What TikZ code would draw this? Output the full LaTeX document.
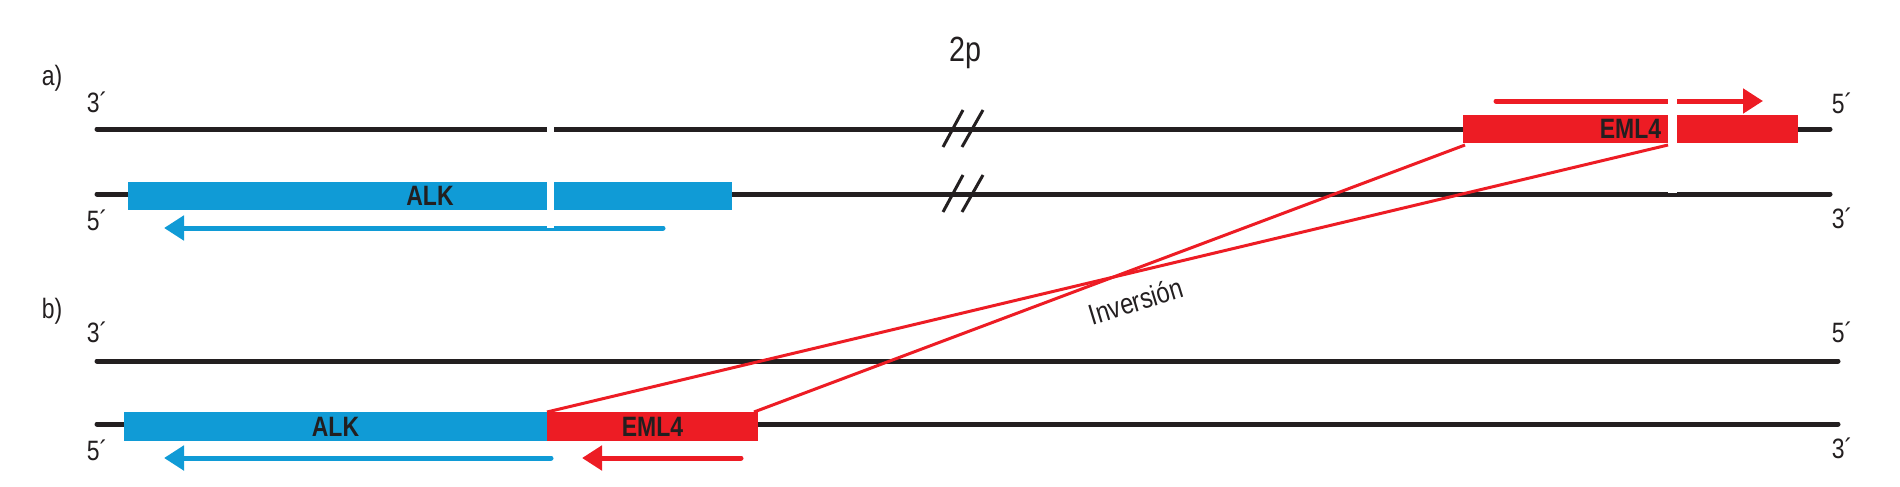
\documentclass[tikz,border=0pt]{standalone}
\usepackage{fontspec}
\setmainfont[FakeStretch=0.82]{Liberation Sans}
\usetikzlibrary{arrows.meta}
\definecolor{alkblue}{RGB}{16,155,214}
\definecolor{emlred}{RGB}{237,28,36}
\definecolor{ink}{RGB}{35,31,32}
\begin{document}
\begin{tikzpicture}[x=1pt,y=-1pt,
  strand/.style={line width=5pt, draw=ink, line cap=round},
  genebox/.style={rectangle, inner sep=0pt, outer sep=0pt, text=ink, minimum height=28pt, font=\fontsize{28}{30}\selectfont\bfseries},
  dirarrow/.style={line width=5pt, line cap=round, -{Triangle[length=20pt,width=24pt]}},
  crossline/.style={draw=emlred, line width=3pt},
  lbl/.style={text=ink, anchor=base, inner sep=0pt, font=\fontsize{28}{30}\selectfont},
  gapbar/.style={fill=white, draw=none},
  brk/.style={line width=3pt, draw=ink}]
\useasboundingbox (0,0) rectangle (1900,487);

% strand end points
\coordinate (a1L) at (97,129);  \coordinate (a1R) at (1830,129);
\coordinate (a2L) at (97,194);  \coordinate (a2R) at (1830,194);
\coordinate (b1L) at (97,361);  \coordinate (b1R) at (1838,361);
\coordinate (b2L) at (97,424);  \coordinate (b2R) at (1838,424);

\draw[strand] (a1L) -- (a1R);
\draw[strand] (a2L) -- (a2R);
\draw[strand] (b1L) -- (b1R);
\draw[strand] (b2L) -- (b2R);

% break marks
\coordinate (k1a) at (943,147); \coordinate (k1b) at (963,110);
\coordinate (k2a) at (962,147); \coordinate (k2b) at (983,110);
\coordinate (k3a) at (943,212); \coordinate (k3b) at (963,175);
\coordinate (k4a) at (962,212); \coordinate (k4b) at (983,175);
\draw[brk] (k1a) -- (k1b);
\draw[brk] (k2a) -- (k2b);
\draw[brk] (k3a) -- (k3b);
\draw[brk] (k4a) -- (k4b);

% gene boxes
\node[genebox, fill=alkblue, minimum width=604pt] (alkA) at (430,196) {ALK};
\node[genebox, fill=emlred, minimum width=335pt] (emlA) at (1630.5,129) {EML4};
\node[genebox, fill=alkblue, minimum width=423pt, minimum height=29pt] (alkB) at (335.5,426.5) {ALK};
\node[genebox, fill=emlred, minimum width=211pt, minimum height=29pt] (emlB) at (652.5,426.5) {EML4};

% direction arrows
\coordinate (ba1) at (663,228); \coordinate (ba2) at (164,228);
\coordinate (ra1) at (1496,101); \coordinate (ra2) at (1763,101);
\coordinate (bb1) at (551,458); \coordinate (bb2) at (164,458);
\coordinate (rb1) at (741,458); \coordinate (rb2) at (582,458);
\draw[dirarrow, draw=alkblue, fill=alkblue] (ba1) -- (ba2);
\draw[dirarrow, draw=emlred, fill=emlred] (ra1) -- (ra2);
\draw[dirarrow, draw=alkblue, fill=alkblue] (bb1) -- (bb2);
\draw[dirarrow, draw=emlred, fill=emlred] (rb1) -- (rb2);

% breakpoint gaps
\fill[gapbar] (547,123) rectangle (554,228);
\fill[gapbar] (1668,95) rectangle (1677,193);

% inversion lines
\coordinate (eg) at (1668,145);
\coordinate (es) at (1465,145);
\draw[crossline] (emlB.north west) -- (eg);
\draw[crossline] ([xshift=-4pt]emlB.north east) -- (es);
\node[text=ink, inner sep=0pt, rotate=17, font=\fontsize{29}{31}\selectfont] (inv) at (1136,301) {Inversión};

% labels
\node[lbl, font=\fontsize{35}{37}\selectfont] (tp) at (965,62) {2p};
\node[lbl] (la) at (52,85) {a)};
\node[lbl] (lb) at (52,318) {b)};
\node[lbl] (a3l) at (97,112) {3´};
\node[lbl] (a5l) at (97,230) {5´};
\node[lbl] (a5r) at (1842,113) {5´};
\node[lbl] (a3r) at (1842,228) {3´};
\node[lbl] (b3l) at (97,342) {3´};
\node[lbl] (b5l) at (97,460) {5´};
\node[lbl] (b5r) at (1842,342) {5´};
\node[lbl] (b3r) at (1842,458) {3´};
\end{tikzpicture}
\end{document}
